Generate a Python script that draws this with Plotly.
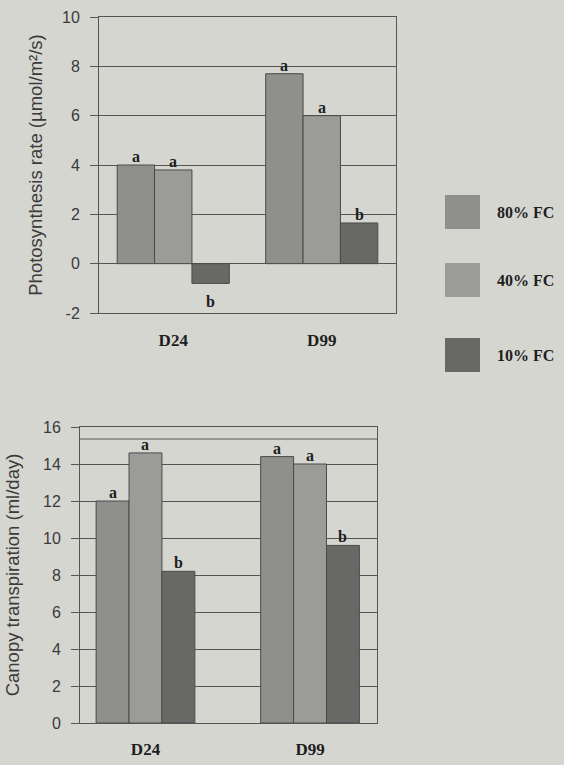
import plotly.graph_objects as go

categories = ["D24", "D99"]
series_names = ["80% FC", "40% FC", "10% FC"]
photo_values = {"80% FC": [4.0, 7.7], "40% FC": [3.8, 6.0], "10% FC": [-0.8, 1.65]}
photo_letters = {"80% FC": ["a", "a"], "40% FC": ["a", "a"], "10% FC": ["b", "b"]}
trans_values = {"80% FC": [12.0, 14.4], "40% FC": [14.6, 14.0], "10% FC": [8.2, 9.6]}
trans_letters = {"80% FC": ["a", "a"], "40% FC": ["a", "a"], "10% FC": ["b", "b"]}
trans_extra_line = 15.35
photo_ticks = [-2, 0, 2, 4, 6, 8, 10]
photo_ticktext = ["-2", "0", "2", "4", "6", "8", "10"]
trans_ticks = [0, 2, 4, 6, 8, 10, 12, 14, 16]

colors = {"80% FC": "#8f8f8c", "40% FC": "#9b9b98", "10% FC": "#686867"}
BG = "#d6d6d1"
GRID = "#555555"
TXT = "#3a3a3a"
serif_bold = dict(family="Liberation Serif", size=16, color="#1e1e1e")

fig = go.Figure()
n = len(series_names)
for i, s in enumerate(series_names):
    fig.add_trace(go.Bar(x=categories, y=photo_values[s], name=s, marker_color=colors[s],
                         marker_line=dict(color="#4a4a4a", width=1),
                         xaxis="x", yaxis="y", showlegend=False))
    fig.add_trace(go.Bar(x=categories, y=trans_values[s], name=s, marker_color=colors[s],
                         marker_line=dict(color="#4a4a4a", width=1),
                         xaxis="x2", yaxis="y2", showlegend=False))

gap1 = 0.245
gap2 = 0.4

for k, tr in enumerate(fig.data):
    idx = k // 2
    g = gap1 if tr.xaxis == "x" else gap2
    tr.width = (1 - g) / n
    tr.offset = -(1 - g) / 2 + idx * (1 - g) / n


def letter_annos(values, letters, xref, yref, gap):
    annos = []
    grp = 1 - gap
    w = grp / n
    for i, s in enumerate(series_names):
        for j, c in enumerate(categories):
            v = values[s][j]
            xpos = j - grp / 2 + w * (i + 0.5)
            annos.append(dict(x=xpos, y=v, xref=xref, yref=yref, text="<b>%s</b>" % letters[s][j],
                              showarrow=False, font=serif_bold,
                              yanchor="bottom" if v >= 0 else "top",
                              yshift=-2 if v >= 0 else -8))
    return annos


annos = letter_annos(photo_values, photo_letters, "x", "y", gap1) + \
        letter_annos(trans_values, trans_letters, "x2", "y2", gap2)

# legend (custom, large swatches)
leg_y = [212, 280, 355]
shapes = []
H = 765.0
W = 564.0
for s, yc in zip(series_names, leg_y):
    shapes.append(dict(type="rect", xref="paper", yref="paper",
                       x0=445 / W, x1=480 / W, y0=1 - (yc + 17) / H, y1=1 - (yc - 17) / H,
                       fillcolor=colors[s], line=dict(width=0)))
    annos.append(dict(x=495 / W, y=1 - yc / H, xref="paper", yref="paper", text="<b>%s</b>" % s,
                      showarrow=False, xanchor="left", yanchor="middle",
                      font=dict(family="Liberation Serif", size=16, color="#1e1e1e")))

shapes.append(dict(type="line", xref="x2 domain", yref="y2", x0=0, x1=1,
                   y0=trans_extra_line, y1=trans_extra_line, line=dict(color=GRID, width=1)))

tickfont = dict(family="Liberation Sans", size=16, color=TXT)
titlefont = dict(family="Liberation Sans", size=18.5, color=TXT)
yaxis_common = dict(showgrid=True, gridcolor=GRID, gridwidth=1, showline=True, linecolor=GRID,
                    mirror=True, ticks="outside", ticklen=8, tickcolor=GRID, tickfont=tickfont,
                    zeroline=False, automargin=False, ticklabelstandoff=7)
xaxis_common = dict(type="category", showline=True, linecolor=GRID, mirror=True, ticks="",
                    tickfont=dict(family="Liberation Serif", size=17, color="#1e1e1e"),
                    tickprefix="<b>", ticksuffix="</b>", automargin=False)

fig.update_layout(
    width=564, height=765, margin=dict(l=0, r=0, t=0, b=0, autoexpand=False),
    paper_bgcolor=BG, plot_bgcolor=BG, barmode="overlay",
    xaxis=dict(domain=[99 / W, 396 / W], anchor="y", range=[-0.5, 1.5], ticklabelstandoff=12,
               **xaxis_common),
    yaxis=dict(domain=[1 - 313 / H, 1 - 17 / H], anchor="x", range=[-2, 10], tickvals=photo_ticks,
               ticktext=photo_ticktext,
               title=dict(text="Photosynthesis rate (µmol/m²/s)", standoff=14, font=titlefont),
               **yaxis_common),
    xaxis2=dict(domain=[80 / W, 377 / W], anchor="y2", range=[-0.398, 1.407], ticklabelstandoff=11,
                **xaxis_common),
    yaxis2=dict(domain=[1 - 723 / H, 1 - 427 / H], anchor="x2", range=[0, 16], tickvals=trans_ticks,
                title=dict(text="Canopy transpiration (ml/day)", standoff=18, font=titlefont),
                **yaxis_common),
    annotations=annos, shapes=shapes,
)

fig.write_html("out.html", config={"displayModeBar": False},
               post_script="document.body.style.margin='0';")
